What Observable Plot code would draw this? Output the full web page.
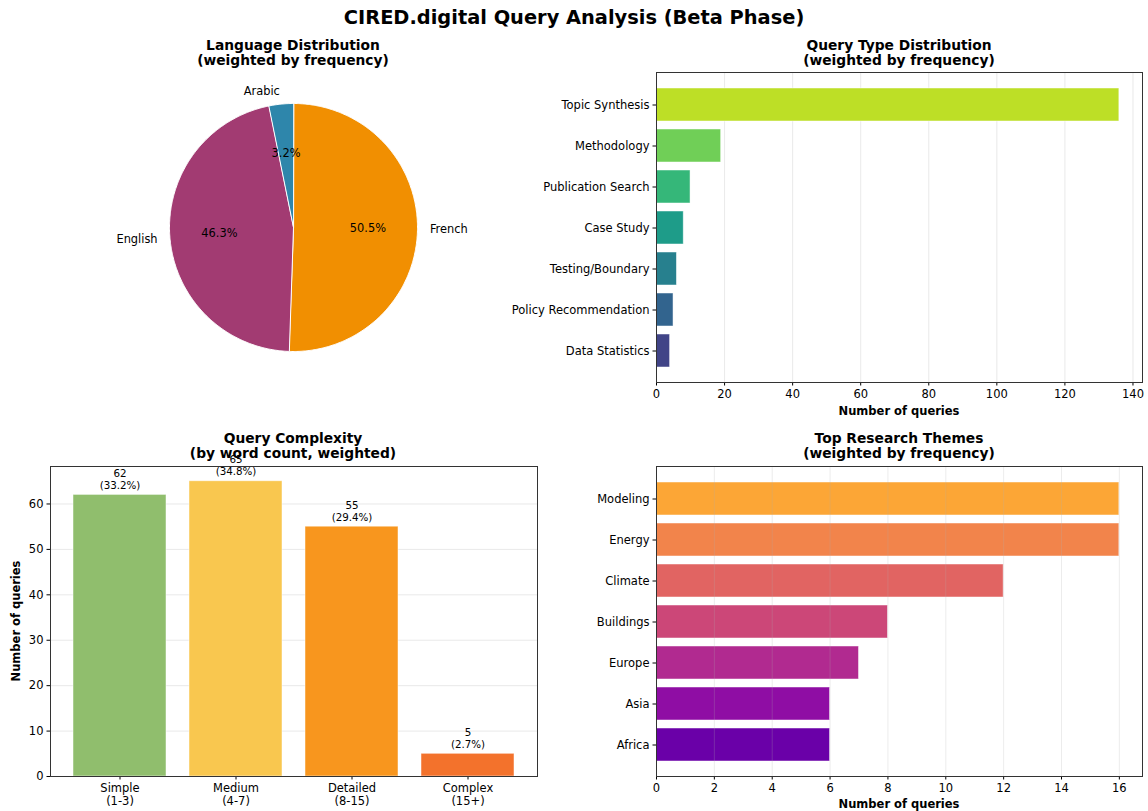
<!DOCTYPE html>
<html><head><meta charset="utf-8">
<script src="https://cdn.jsdelivr.net/npm/d3@7"></script>
<script src="https://cdn.jsdelivr.net/npm/@observablehq/plot@0.6"></script>
<style>
body{margin:0;background:#fff;}
#root{position:relative;width:1148px;height:811px;overflow:hidden;font-family:"DejaVu Sans",sans-serif;color:#000;}
.lbl{position:absolute;transform:translate(-50%,-50%);white-space:pre;text-align:center;}
.panel{position:absolute;}
.panel svg{overflow:visible;}
</style></head><body><div id="root"></div>
<script>
// ---------- data ----------
const languages = ["French", "English", "Arabic"];
const languageCounts = [95, 87, 6];

const queryTypes = ["Topic Synthesis", "Methodology", "Publication Search", "Case Study", "Testing/Boundary", "Policy Recommendation", "Data Statistics"];
const queryTypeCounts = [136, 19, 10, 8, 6, 5, 4];
const queryTypeTicks = [0, 20, 40, 60, 80, 100, 120, 140];

const complexityLevels = ["Simple\n(1-3)", "Medium\n(4-7)", "Detailed\n(8-15)", "Complex\n(15+)"];
const complexityCounts = [62, 65, 55, 5];
const complexityTicks = [0, 10, 20, 30, 40, 50, 60];

const themes = ["Modeling", "Energy", "Climate", "Buildings", "Europe", "Asia", "Africa"];
const themeCounts = [16, 16, 12, 8, 7, 6, 6];
const themeTicks = [0, 2, 4, 6, 8, 10, 12, 14, 16];

// ---------- palettes ----------
const languageColors = ["#F18F01", "#A23B72", "#2E86AB"];
const queryTypeColors = queryTypes.map((_, i) => d3.interpolateViridis(0.9 - i * 0.7 / 6));
const complexityColors = ["#90BE6D", "#F9C74F", "#F8961E", "#F3722C"];
const themeColors = themes.map((_, i) => d3.interpolatePlasma(0.8 - i * 0.1));

const root = document.getElementById("root");
function label(text, cx, cy, style = "") {
  const d = document.createElement("div");
  d.className = "lbl";
  d.textContent = text;
  d.style.cssText = `left:${cx}px;top:${cy}px;` + style;
  root.appendChild(d);
}
function panel(svg, left, top) {
  const d = document.createElement("div");
  d.className = "panel";
  d.style.left = left + "px";
  d.style.top = top + "px";
  d.appendChild(svg);
  root.appendChild(d);
}
const FS = 11.5;
const baseStyle = {fontFamily: "DejaVu Sans", fontSize: FS + "px", color: "#000", background: "transparent", overflow: "visible"};
const titleStyle = "font-weight:bold;font-size:13.8px;line-height:15.5px;";
const axisLabelStyle = "font-weight:bold;font-size:11.5px;line-height:13px;";

// ---------- pie ----------
const langTotal = d3.sum(languageCounts);
const arcs = d3.pie().sort(null)(languageCounts);
const piePts = [];
arcs.forEach((a, i) => {
  piePts.push({name: languages[i], x: 0, y: 0});
  const n = Math.max(2, Math.ceil((a.endAngle - a.startAngle) / 0.01));
  for (let k = 0; k <= n; k++) {
    const t = a.startAngle + (a.endAngle - a.startAngle) * k / n;
    piePts.push({name: languages[i], x: Math.sin(t), y: Math.cos(t)});
  }
});
const pieLabels = arcs.map((a, i) => {
  const m = (a.startAngle + a.endAngle) / 2;
  return {name: languages[i], pct: (100 * a.value / langTotal).toFixed(1) + "%", sx: Math.sin(m), cy: Math.cos(m)};
});
const R = 124, PW = 500, PH = 320;
panel(Plot.plot({
  width: PW, height: PH, margin: 0,
  style: baseStyle,
  x: {domain: [-PW / 2 / R, PW / 2 / R], axis: null},
  y: {domain: [-PH / 2 / R, PH / 2 / R], axis: null},
  color: {domain: languages, range: languageColors},
  marks: [
    Plot.line(piePts, {x: "x", y: "y", z: "name", fill: "name", stroke: "white", strokeWidth: 1, curve: "linear-closed"}),
    Plot.text(pieLabels, {x: d => 0.6 * d.sx, y: d => 0.6 * d.cy, text: "pct", fill: "#000", fontSize: 11.4}),
    Plot.text(pieLabels.filter(d => d.sx >= 0), {x: d => 1.1 * d.sx, y: d => 1.1 * d.cy, text: "name", textAnchor: "start", fill: "#000", fontSize: 11.4}),
    Plot.text(pieLabels.filter(d => d.sx < 0), {x: d => 1.1 * d.sx, y: d => 1.1 * d.cy, text: "name", textAnchor: "end", fill: "#000", fontSize: 11.4})
  ]
}), 293 - PW / 2, 227 - PH / 2);

// ---------- query types ----------
const qData = queryTypes.map((t, i) => ({type: t, count: queryTypeCounts[i]}));
panel(Plot.plot({
  width: 668, height: 360, marginLeft: 176, marginRight: 6, marginTop: 10, marginBottom: 40,
  style: baseStyle,
  x: {domain: [0, 142.8], label: null},
  y: {domain: queryTypes, paddingInner: 0.2, paddingOuter: 0.34, label: null},
  color: {domain: queryTypes, range: queryTypeColors},
  marks: [
    Plot.gridX(queryTypeTicks, {stroke: "#b0b0b0", strokeOpacity: 0.35, strokeWidth: 0.8}),
    Plot.barX(qData, {x: "count", y: "type", fill: "type", stroke: "white", strokeOpacity: 0.6, strokeWidth: 0.8}),
    Plot.axisX(queryTypeTicks, {tickSize: 3.5, tickPadding: 3.5, label: null}),
    Plot.axisY({tickSize: 3.5, tickPadding: 3.5, label: null}),
    Plot.frame({stroke: "#333", strokeWidth: 1})
  ]
}), 480, 62);

// ---------- complexity ----------
const cTotal = d3.sum(complexityCounts);
const cData = complexityLevels.map((l, i) => ({level: l, count: complexityCounts[i]}));
panel(Plot.plot({
  width: 560, height: 381, marginLeft: 50, marginRight: 23, marginTop: 36, marginBottom: 35,
  style: baseStyle,
  x: {domain: complexityLevels, paddingInner: 0.2, paddingOuter: 0.19, label: null},
  y: {domain: [0, 68.25], label: null},
  color: {domain: complexityLevels, range: complexityColors},
  marks: [
    Plot.gridY(complexityTicks, {stroke: "#b0b0b0", strokeOpacity: 0.35, strokeWidth: 0.8}),
    Plot.barY(cData, {x: "level", y: "count", fill: "level", stroke: "white", strokeOpacity: 0.6, strokeWidth: 0.8}),
    Plot.text(cData, {x: "level", y: "count", text: d => `${d.count}\n(${(100 * d.count / cTotal).toFixed(1)}%)`, lineAnchor: "bottom", dy: -6, fontSize: 10.3, lineHeight: 1.18, fill: "#000"}),
    Plot.axisX({tickSize: 3.5, tickPadding: 3.5, label: null, lineHeight: 1.08}),
    Plot.axisY(complexityTicks, {tickSize: 3.5, tickPadding: 3.5, label: null}),
    Plot.frame({stroke: "#333", strokeWidth: 1})
  ]
}), 0, 430);

// ---------- themes ----------
const tData = themes.map((t, i) => ({theme: t, count: themeCounts[i]}));
panel(Plot.plot({
  width: 668, height: 355, marginLeft: 176, marginRight: 6, marginTop: 10, marginBottom: 35,
  style: baseStyle,
  x: {domain: [0, 16.8], label: null},
  y: {domain: themes, paddingInner: 0.2, paddingOuter: 0.34, label: null},
  color: {domain: themes, range: themeColors},
  marks: [
    Plot.barX(tData, {x: "count", y: "theme", fill: "theme", stroke: "white", strokeOpacity: 0.6, strokeWidth: 0.8}),
    Plot.gridX(themeTicks, {stroke: "#b0b0b0", strokeOpacity: 0.3, strokeWidth: 0.8}),
    Plot.axisX(themeTicks, {tickSize: 3.5, tickPadding: 3.5, label: null}),
    Plot.axisY({tickSize: 3.5, tickPadding: 3.5, label: null}),
    Plot.frame({stroke: "#333", strokeWidth: 1})
  ]
}), 480, 456);

// ---------- titles & axis labels ----------
label("CIRED.digital Query Analysis (Beta Phase)", 574, 18, "font-weight:bold;font-size:19.4px;line-height:22px;");
label("Language Distribution\n(weighted by frequency)", 293, 52.5, titleStyle);
label("Query Type Distribution\n(weighted by frequency)", 899, 52.5, titleStyle);
label("Query Complexity\n(by word count, weighted)", 293, 445.5, titleStyle);
label("Top Research Themes\n(weighted by frequency)", 899, 445.5, titleStyle);
label("Number of queries", 899, 411, axisLabelStyle);
label("Number of queries", 899, 804, axisLabelStyle);
label("Number of queries", 16, 621, axisLabelStyle + "transform:translate(-50%,-50%) rotate(-90deg);");
</script></body></html>
